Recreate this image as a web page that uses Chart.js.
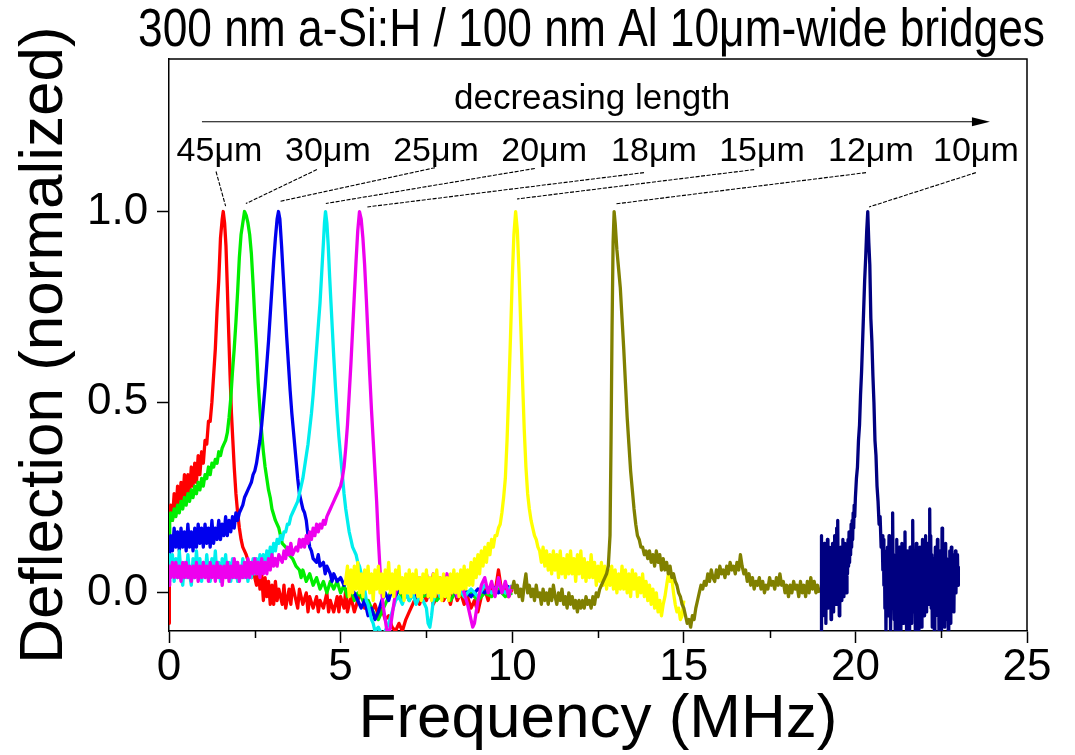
<!DOCTYPE html>
<html>
<head>
<meta charset="utf-8">
<script src="https://cdn.jsdelivr.net/npm/chart.js@4/dist/chart.umd.min.js"></script>
<style>html,body{margin:0;padding:0;background:#fff;overflow:hidden}</style>
</head>
<body>
<canvas id="c" width="1075" height="755"></canvas>
<script>
// ---------- tick values ----------
const xTicks = [0, 5, 10, 15, 20, 25];
const xMinorTicks = [2.5, 7.5, 12.5, 17.5, 22.5];
const yTicks = [0.0, 0.5, 1.0];

// ---------- series: [frequency (MHz), normalized deflection] ----------
const trace45um = [[0,-0.08],[0.01,0.20],[0.05,0.23],[0.1,0.19],[0.15,0.26],[0.2,0.21],[0.25,0.28],[0.3,0.23],[0.35,0.29],[0.4,0.24],[0.45,0.31],[0.5,0.25],[0.55,0.31],[0.6,0.26],[0.65,0.33],[0.7,0.28],[0.75,0.34],[0.8,0.29],[0.85,0.36],[0.9,0.31],[0.95,0.37],[1.0,0.34],[1.05,0.40],[1.1,0.39],[1.15,0.45],[1.2,0.45],[1.25,0.50],[1.3,0.57],[1.35,0.64],[1.4,0.74],[1.45,0.82],[1.5,0.93],[1.55,0.98],[1.58,1.0],[1.62,0.97],[1.66,0.91],[1.7,0.80],[1.74,0.68],[1.78,0.57],[1.82,0.47],[1.86,0.40],[1.9,0.33],[1.95,0.26],[2.0,0.21],[2.05,0.17],[2.1,0.14],[2.15,0.12],[2.2,0.11],[2.25,0.10],[2.3,0.085],[2.35,0.06],[2.4,0.04],[2.45,0.07],[2.5,0.04],[2.55,0.02],[2.6,0.07],[2.65,0.01],[2.7,0.05],[2.75,-0.02],[2.8,0.04],[2.85,-0.01],[2.9,0.03],[2.95,-0.03],[3.0,0.02],[3.05,-0.03],[3.1,0.03],[3.15,-0.02],[3.2,0.01],[3.3,-0.03],[3.35,0.02],[3.4,-0.04],[3.5,0.01],[3.55,-0.03],[3.6,0.02],[3.7,-0.02],[3.75,-0.04],[3.8,0.01],[3.9,-0.03],[4.0,0.0],[4.05,-0.05],[4.1,-0.01],[4.2,-0.04],[4.3,-0.01],[4.35,-0.05],[4.4,-0.02],[4.5,-0.04],[4.6,0.0],[4.65,-0.05],[4.7,-0.02],[4.8,-0.05],[4.9,-0.01],[4.95,-0.05],[5.0,-0.01],[5.1,-0.04],[5.15,0.01],[5.2,-0.05],[5.3,-0.01],[5.4,-0.05],[5.5,-0.02],[5.6,0.01],[5.7,-0.04],[5.8,-0.02],[5.9,-0.05],[6.0,-0.03],[6.1,-0.06],[6.2,-0.04],[6.3,-0.07],[6.4,-0.06],[6.5,-0.09],[6.6,-0.1],[6.7,-0.08],[6.8,-0.1],[6.9,-0.07],[7.0,-0.05],[7.1,-0.03],[7.2,-0.01],[7.3,-0.03],[7.4,0.0],[7.5,-0.02],[7.6,0.01],[7.7,-0.03],[7.8,-0.01],[7.9,0.01],[8.0,-0.02],[8.1,0.0],[8.2,-0.03],[8.3,0.01],[8.4,-0.02],[8.5,0.0],[8.6,-0.03],[8.7,-0.01],[8.8,-0.04],[8.9,-0.02],[9.0,-0.05],[9.1,-0.01],[9.2,0.01],[9.3,-0.02],[9.4,0.02],[9.5,0.0],[9.6,0.06],[9.7,0.0],[9.8,0.02],[9.9,-0.01],[10.0,0.01]];

const trace30um = [[0,0.12],[0.02,0.19],[0.05,0.21],[0.1,0.19],[0.15,0.22],[0.2,0.20],[0.25,0.23],[0.3,0.21],[0.35,0.24],[0.4,0.22],[0.45,0.25],[0.5,0.23],[0.55,0.26],[0.6,0.24],[0.65,0.27],[0.7,0.25],[0.75,0.28],[0.8,0.26],[0.85,0.29],[0.9,0.27],[0.95,0.30],[1.0,0.28],[1.05,0.31],[1.1,0.30],[1.15,0.33],[1.2,0.31],[1.25,0.34],[1.3,0.33],[1.35,0.35],[1.4,0.34],[1.45,0.37],[1.5,0.36],[1.55,0.38],[1.6,0.39],[1.65,0.40],[1.7,0.42],[1.75,0.46],[1.8,0.51],[1.85,0.58],[1.9,0.64],[1.95,0.71],[2.0,0.79],[2.05,0.88],[2.1,0.94],[2.15,0.97],[2.2,1.0],[2.25,0.99],[2.3,0.97],[2.35,0.94],[2.4,0.89],[2.45,0.81],[2.5,0.72],[2.55,0.64],[2.6,0.55],[2.65,0.48],[2.7,0.42],[2.75,0.37],[2.8,0.33],[2.85,0.30],[2.9,0.27],[2.95,0.25],[3.0,0.22],[3.1,0.19],[3.2,0.17],[3.3,0.13],[3.4,0.12],[3.5,0.10],[3.6,0.09],[3.7,0.07],[3.8,0.06],[3.85,0.04],[3.9,0.06],[4.0,0.03],[4.1,0.05],[4.2,0.02],[4.3,0.04],[4.4,0.01],[4.5,0.03],[4.6,0.0],[4.7,0.03],[4.8,0.01],[4.9,0.03],[5.0,0.0],[5.1,0.02],[5.2,-0.01],[5.3,0.01],[5.4,-0.02],[5.5,0.0],[5.6,-0.01],[5.7,-0.03],[5.8,-0.02],[5.9,-0.04],[6.0,-0.06],[6.1,-0.07],[6.2,-0.05],[6.3,-0.03],[6.4,-0.01],[6.5,0.01],[6.6,-0.01],[6.7,0.01],[6.8,-0.02],[6.9,0.0],[7.0,-0.02],[7.2,0.01],[7.4,-0.01],[7.6,0.0],[7.8,-0.02],[8.0,0.0],[8.2,-0.02],[8.4,0.01],[8.6,-0.01],[8.8,0.0],[9.0,-0.02],[9.2,0.0],[9.4,-0.01],[9.6,0.01],[9.8,-0.01],[10.0,0.0]];

const trace25um = [[0,0.06],[0.02,0.11],[0.05,0.15],[0.1,0.11],[0.15,0.17],[0.2,0.12],[0.25,0.16],[0.3,0.11],[0.35,0.17],[0.4,0.12],[0.45,0.16],[0.5,0.11],[0.55,0.18],[0.6,0.12],[0.65,0.16],[0.7,0.11],[0.75,0.17],[0.8,0.12],[0.85,0.18],[0.9,0.13],[0.95,0.17],[1.0,0.12],[1.05,0.18],[1.1,0.13],[1.15,0.17],[1.2,0.12],[1.25,0.19],[1.3,0.13],[1.35,0.17],[1.4,0.14],[1.45,0.19],[1.5,0.14],[1.55,0.18],[1.6,0.15],[1.65,0.20],[1.7,0.15],[1.75,0.19],[1.8,0.16],[1.85,0.20],[1.9,0.17],[1.95,0.21],[2.0,0.19],[2.05,0.21],[2.1,0.22],[2.15,0.23],[2.2,0.25],[2.25,0.26],[2.3,0.27],[2.35,0.28],[2.4,0.29],[2.45,0.31],[2.5,0.32],[2.55,0.34],[2.6,0.37],[2.65,0.40],[2.7,0.44],[2.75,0.49],[2.8,0.54],[2.85,0.60],[2.9,0.66],[2.95,0.73],[3.0,0.80],[3.05,0.87],[3.1,0.93],[3.15,0.98],[3.19,1.0],[3.23,0.98],[3.28,0.91],[3.33,0.83],[3.38,0.75],[3.43,0.67],[3.48,0.60],[3.53,0.53],[3.58,0.47],[3.63,0.42],[3.7,0.35],[3.75,0.30],[3.8,0.26],[3.85,0.24],[3.9,0.22],[3.95,0.21],[4.0,0.19],[4.05,0.15],[4.1,0.12],[4.15,0.11],[4.2,0.09],[4.3,0.08],[4.35,0.10],[4.4,0.07],[4.5,0.08],[4.55,0.05],[4.6,0.07],[4.7,0.05],[4.75,0.03],[4.8,0.05],[4.9,0.03],[5.0,0.04],[5.1,0.02],[5.2,0.03],[5.3,0.01],[5.4,0.0],[5.5,-0.02],[5.6,-0.04],[5.7,-0.02],[5.8,-0.06],[5.9,-0.04],[6.0,-0.07],[6.1,-0.05],[6.2,-0.02],[6.3,0.0],[6.4,-0.02],[6.5,0.01],[6.6,-0.01],[6.7,0.02],[6.8,0.0],[7.0,0.01],[7.2,-0.01],[7.4,0.01],[7.6,-0.01],[7.8,0.01],[8.0,0.0],[8.2,0.02],[8.4,-0.01],[8.6,0.01],[8.8,-0.01],[9.0,0.01],[9.2,0.0],[9.4,0.02],[9.6,0.0],[9.8,0.02],[10.0,0.01]];

const trace20um = [[0,0.03],[0.02,0.10],[0.05,0.05],[0.1,0.10],[0.15,0.03],[0.2,0.09],[0.25,0.04],[0.3,0.11],[0.35,0.05],[0.4,0.02],[0.45,0.08],[0.5,0.04],[0.55,0.10],[0.6,0.05],[0.65,0.02],[0.7,0.09],[0.75,0.04],[0.8,0.11],[0.85,0.05],[0.9,0.09],[0.95,0.03],[1.0,0.08],[1.05,0.04],[1.1,0.10],[1.15,0.05],[1.2,0.03],[1.25,0.09],[1.3,0.05],[1.35,0.11],[1.4,0.04],[1.45,0.08],[1.5,0.03],[1.55,0.09],[1.6,0.05],[1.65,0.10],[1.7,0.04],[1.75,0.08],[1.8,0.03],[1.85,0.09],[1.9,0.04],[1.95,0.08],[2.0,0.03],[2.05,0.07],[2.1,0.04],[2.15,0.09],[2.2,0.04],[2.25,0.08],[2.3,0.03],[2.35,0.08],[2.4,0.04],[2.45,0.09],[2.5,0.05],[2.55,0.09],[2.6,0.05],[2.65,0.10],[2.7,0.06],[2.75,0.10],[2.8,0.07],[2.85,0.11],[2.9,0.08],[2.95,0.12],[3.0,0.10],[3.05,0.13],[3.1,0.11],[3.15,0.14],[3.2,0.13],[3.25,0.15],[3.3,0.14],[3.35,0.16],[3.4,0.16],[3.45,0.18],[3.5,0.18],[3.55,0.20],[3.6,0.21],[3.65,0.22],[3.7,0.23],[3.75,0.24],[3.8,0.26],[3.85,0.28],[3.9,0.30],[3.95,0.33],[4.0,0.36],[4.05,0.39],[4.1,0.43],[4.15,0.47],[4.2,0.52],[4.25,0.58],[4.3,0.64],[4.35,0.70],[4.4,0.76],[4.45,0.84],[4.5,0.92],[4.53,0.97],[4.56,1.0],[4.6,0.97],[4.64,0.91],[4.68,0.83],[4.72,0.76],[4.76,0.69],[4.8,0.62],[4.85,0.54],[4.9,0.47],[4.95,0.41],[5.0,0.36],[5.05,0.31],[5.1,0.26],[5.15,0.22],[5.2,0.19],[5.25,0.16],[5.3,0.14],[5.35,0.12],[5.4,0.11],[5.45,0.10],[5.5,0.08],[5.55,0.07],[5.6,0.05],[5.65,0.03],[5.7,0.01],[5.75,-0.02],[5.8,-0.03],[5.85,-0.05],[5.9,-0.07],[5.95,-0.08],[6.0,-0.10],[6.1,-0.09],[6.2,-0.11],[6.3,-0.10],[6.4,-0.08],[6.5,-0.05],[6.6,-0.02],[6.7,-0.01],[6.8,-0.03],[6.9,0.0],[7.0,-0.02],[7.1,0.0],[7.2,-0.03],[7.3,-0.01],[7.4,-0.02],[7.5,-0.04],[7.55,-0.08],[7.6,-0.09],[7.65,-0.06],[7.7,-0.02],[7.8,0.01],[7.9,-0.01],[8.0,0.02],[8.2,0.0],[8.4,0.02],[8.6,-0.01],[8.8,0.01],[9.0,-0.01],[9.2,0.02],[9.4,0.0],[9.6,0.02],[9.8,0.0],[10.0,0.02]];

const trace18um = [[0,0.02],[0.02,0.07],[0.05,0.04],[0.1,0.08],[0.15,0.04],[0.2,0.08],[0.25,0.04],[0.3,0.07],[0.35,0.03],[0.4,0.08],[0.45,0.04],[0.5,0.08],[0.55,0.04],[0.6,0.07],[0.65,0.03],[0.7,0.07],[0.75,0.04],[0.8,0.08],[0.85,0.03],[0.9,0.07],[0.95,0.04],[1.0,0.08],[1.05,0.04],[1.1,0.07],[1.15,0.03],[1.2,0.08],[1.25,0.04],[1.3,0.07],[1.35,0.03],[1.4,0.08],[1.45,0.04],[1.5,0.07],[1.55,0.02],[1.6,0.07],[1.65,0.04],[1.7,0.08],[1.75,0.03],[1.8,0.07],[1.85,0.04],[1.9,0.09],[1.95,0.04],[2.0,0.08],[2.05,0.03],[2.1,0.07],[2.15,0.04],[2.2,0.08],[2.25,0.04],[2.3,0.09],[2.35,0.04],[2.4,0.08],[2.45,0.05],[2.5,0.09],[2.55,0.05],[2.6,0.08],[2.65,0.04],[2.7,0.09],[2.75,0.05],[2.8,0.08],[2.85,0.05],[2.9,0.09],[2.95,0.06],[3.0,0.10],[3.05,0.07],[3.1,0.09],[3.15,0.07],[3.2,0.10],[3.3,0.08],[3.35,0.11],[3.4,0.09],[3.45,0.12],[3.5,0.10],[3.55,0.13],[3.6,0.10],[3.65,0.11],[3.7,0.12],[3.75,0.11],[3.8,0.14],[3.85,0.12],[3.9,0.14],[3.95,0.12],[4.0,0.15],[4.05,0.13],[4.1,0.16],[4.15,0.14],[4.2,0.17],[4.25,0.15],[4.3,0.18],[4.35,0.16],[4.4,0.18],[4.45,0.17],[4.5,0.19],[4.55,0.18],[4.6,0.20],[4.65,0.21],[4.7,0.22],[4.75,0.23],[4.8,0.24],[4.85,0.25],[4.9,0.26],[4.95,0.27],[5.0,0.28],[5.05,0.30],[5.1,0.33],[5.15,0.38],[5.2,0.44],[5.25,0.52],[5.3,0.60],[5.35,0.69],[5.4,0.78],[5.45,0.87],[5.5,0.95],[5.55,1.0],[5.6,0.98],[5.65,0.93],[5.7,0.86],[5.75,0.77],[5.8,0.67],[5.85,0.57],[5.9,0.48],[5.95,0.40],[6.0,0.32],[6.05,0.24],[6.1,0.14],[6.15,0.06],[6.2,0.0],[6.25,-0.04],[6.3,-0.07],[6.35,-0.10],[6.4,-0.11],[6.45,-0.09],[6.5,-0.06],[6.55,-0.03],[6.6,0.0],[6.7,0.03],[6.8,0.0],[6.9,0.04],[7.0,0.01],[7.1,0.04],[7.2,0.0],[7.3,0.04],[7.4,0.01],[7.5,0.05],[7.6,0.01],[7.7,0.05],[7.8,0.0],[7.9,0.04],[8.0,0.01],[8.1,0.05],[8.2,0.0],[8.3,0.04],[8.4,-0.01],[8.5,0.03],[8.6,0.0],[8.7,-0.03],[8.8,-0.07],[8.85,-0.09],[8.9,-0.08],[8.95,-0.05],[9.0,-0.02],[9.1,0.02],[9.2,0.04],[9.3,0.0],[9.4,0.03],[9.5,-0.01],[9.6,0.04],[9.7,0.0],[9.8,0.03],[9.9,-0.01],[10.0,0.02]];

const trace15um = [[5.13,0.02],[5.2,0.07],[5.25,-0.01],[5.3,0.06],[5.35,0.0],[5.4,0.07],[5.45,0.01],[5.5,0.08],[5.55,0.0],[5.6,0.05],[5.65,-0.01],[5.7,0.06],[5.75,0.01],[5.8,0.07],[5.85,0.0],[5.9,0.05],[5.95,-0.02],[6.0,0.06],[6.05,0.01],[6.1,0.07],[6.15,0.0],[6.2,0.05],[6.25,-0.01],[6.3,0.06],[6.35,0.01],[6.4,0.08],[6.45,0.0],[6.5,0.05],[6.55,-0.01],[6.6,0.06],[6.65,0.01],[6.7,0.07],[6.75,0.0],[6.8,0.04],[6.85,-0.02],[6.9,0.05],[6.95,0.0],[7.0,0.06],[7.05,-0.01],[7.1,0.05],[7.15,0.0],[7.2,0.06],[7.25,-0.01],[7.3,0.04],[7.35,-0.02],[7.4,0.05],[7.45,0.0],[7.5,0.06],[7.55,-0.01],[7.6,0.04],[7.65,-0.02],[7.7,0.05],[7.75,-0.01],[7.8,0.06],[7.85,0.0],[7.9,0.04],[7.95,-0.02],[8.0,0.05],[8.05,-0.01],[8.1,0.04],[8.15,-0.02],[8.2,0.05],[8.25,0.0],[8.3,0.06],[8.35,0.0],[8.4,0.05],[8.45,-0.01],[8.5,0.06],[8.55,0.01],[8.6,0.07],[8.65,0.01],[8.7,0.06],[8.75,0.02],[8.8,0.08],[8.85,0.02],[8.9,0.09],[8.95,0.04],[9.0,0.10],[9.05,0.05],[9.1,0.11],[9.15,0.07],[9.2,0.12],[9.25,0.08],[9.3,0.13],[9.35,0.10],[9.4,0.14],[9.45,0.12],[9.5,0.15],[9.55,0.15],[9.6,0.17],[9.65,0.18],[9.7,0.21],[9.75,0.25],[9.8,0.30],[9.85,0.40],[9.9,0.53],[9.95,0.67],[10.0,0.82],[10.05,0.94],[10.1,1.0],[10.15,0.95],[10.2,0.84],[10.25,0.70],[10.3,0.56],[10.35,0.43],[10.4,0.33],[10.45,0.26],[10.5,0.22],[10.55,0.19],[10.6,0.17],[10.65,0.15],[10.7,0.14],[10.75,0.12],[10.8,0.11],[10.85,0.08],[10.9,0.12],[10.95,0.07],[11.0,0.11],[11.05,0.06],[11.1,0.10],[11.15,0.05],[11.2,0.11],[11.25,0.06],[11.3,0.10],[11.35,0.04],[11.4,0.11],[11.45,0.05],[11.5,0.09],[11.55,0.04],[11.6,0.10],[11.65,0.05],[11.7,0.11],[11.75,0.05],[11.8,0.09],[11.85,0.03],[11.9,0.10],[11.95,0.05],[12.0,0.11],[12.05,0.04],[12.1,0.09],[12.15,0.03],[12.2,0.08],[12.25,0.04],[12.3,0.10],[12.35,0.04],[12.4,0.08],[12.45,0.02],[12.5,0.07],[12.55,0.03],[12.6,0.08],[12.65,0.02],[12.7,0.07],[12.75,0.01],[12.8,0.06],[12.85,0.02],[12.9,0.07],[12.95,0.01],[13.0,0.06],[13.05,0.0],[13.1,0.05],[13.15,0.01],[13.2,0.07],[13.25,0.01],[13.3,0.06],[13.35,0.0],[13.4,0.05],[13.45,-0.01],[13.5,0.06],[13.55,0.01],[13.6,0.05],[13.65,-0.01],[13.7,0.04],[13.75,0.0],[13.8,0.05],[13.85,-0.01],[13.9,0.03],[13.95,-0.02],[14.0,0.02],[14.05,-0.03],[14.1,0.01],[14.15,-0.04],[14.2,0.0],[14.25,-0.05],[14.3,-0.02],[14.35,-0.06],[14.4,-0.03],[14.45,-0.01],[14.5,0.02],[14.55,0.05],[14.6,0.03],[14.65,0.04],[14.7,0.0],[14.75,-0.03],[14.8,-0.05],[14.85,-0.04],[14.9,-0.07],[14.95,-0.06],[15.0,-0.02]];

const trace12um = [[10.0,0.01],[10.05,0.03],[10.1,0.0],[10.15,0.02],[10.2,-0.01],[10.25,0.01],[10.3,-0.02],[10.35,0.02],[10.4,0.05],[10.45,0.0],[10.5,0.02],[10.55,-0.01],[10.6,0.01],[10.65,-0.02],[10.7,0.02],[10.75,-0.01],[10.8,0.0],[10.85,-0.03],[10.9,0.01],[10.95,-0.02],[11.0,0.0],[11.05,-0.03],[11.1,0.01],[11.15,-0.02],[11.2,0.02],[11.25,-0.01],[11.3,-0.03],[11.35,0.0],[11.4,-0.02],[11.45,0.01],[11.5,-0.03],[11.55,-0.01],[11.6,-0.04],[11.65,0.0],[11.7,-0.03],[11.75,-0.01],[11.8,-0.04],[11.85,-0.02],[11.9,-0.05],[11.95,-0.02],[12.0,-0.04],[12.05,-0.02],[12.1,-0.04],[12.15,-0.01],[12.2,-0.03],[12.25,-0.02],[12.3,-0.04],[12.35,-0.01],[12.4,-0.03],[12.45,0.0],[12.5,-0.01],[12.55,0.01],[12.6,0.02],[12.65,0.03],[12.7,0.04],[12.75,0.05],[12.8,0.07],[12.85,0.15],[12.88,0.40],[12.91,0.70],[12.94,0.92],[12.97,1.0],[13.0,0.97],[13.05,0.90],[13.1,0.85],[13.15,0.80],[13.2,0.72],[13.25,0.64],[13.3,0.55],[13.35,0.46],[13.4,0.39],[13.45,0.32],[13.5,0.27],[13.55,0.22],[13.6,0.18],[13.65,0.15],[13.7,0.14],[13.75,0.12],[13.8,0.12],[13.85,0.10],[13.9,0.11],[13.95,0.09],[14.0,0.11],[14.05,0.08],[14.1,0.10],[14.15,0.07],[14.2,0.11],[14.25,0.08],[14.3,0.10],[14.35,0.06],[14.4,0.09],[14.45,0.06],[14.5,0.08],[14.55,0.05],[14.6,0.07],[14.65,0.04],[14.7,0.05],[14.75,0.03],[14.8,0.02],[14.85,0.0],[14.9,-0.01],[14.95,-0.03],[15.0,-0.04],[15.05,-0.06],[15.1,-0.08],[15.15,-0.07],[15.2,-0.09],[15.25,-0.06],[15.3,-0.07],[15.35,-0.04],[15.4,-0.02],[15.45,0.0],[15.5,0.02],[15.55,0.01],[15.6,0.03],[15.65,0.02],[15.7,0.05],[15.75,0.03],[15.8,0.06],[15.85,0.04],[15.9,0.03],[15.95,0.06],[16.0,0.04],[16.05,0.07],[16.1,0.05],[16.15,0.06],[16.2,0.04],[16.25,0.07],[16.3,0.05],[16.35,0.08],[16.4,0.06],[16.45,0.07],[16.5,0.05],[16.55,0.08],[16.6,0.06],[16.65,0.10],[16.7,0.07],[16.75,0.05],[16.8,0.06],[16.85,0.03],[16.9,0.05],[16.95,0.02],[17.0,0.04],[17.05,0.01],[17.1,0.03],[17.15,0.02],[17.2,0.04],[17.25,0.01],[17.3,0.03],[17.35,0.0],[17.4,0.02],[17.45,0.01],[17.5,0.04],[17.55,0.02],[17.6,0.03],[17.65,0.01],[17.7,0.04],[17.75,0.02],[17.8,0.05],[17.85,0.02],[17.9,0.03],[17.95,0.0],[18.0,0.02],[18.05,-0.01],[18.1,0.02],[18.15,0.0],[18.2,0.03],[18.25,0.01],[18.3,0.02],[18.35,-0.01],[18.4,0.03],[18.45,0.0],[18.5,0.02],[18.55,-0.01],[18.6,0.03],[18.65,0.0],[18.7,0.04],[18.75,0.01],[18.8,0.03],[18.85,0.0],[18.9,0.02],[18.95,0.0]];

const trace10um = [[19.0,-0.1],[19.005,0.15],[19.02,0.03],[19.035,0.12],[19.05,-0.06],[19.065,0.10],[19.08,0.0],[19.095,0.13],[19.11,-0.03],[19.125,0.09],[19.14,-0.08],[19.155,0.11],[19.17,0.02],[19.185,0.14],[19.2,-0.04],[19.215,0.07],[19.23,-0.02],[19.245,0.12],[19.26,0.01],[19.275,0.10],[19.29,-0.07],[19.305,0.08],[19.32,0.03],[19.335,0.13],[19.35,-0.05],[19.365,0.06],[19.38,0.0],[19.395,0.15],[19.41,0.02],[19.425,0.11],[19.44,-0.03],[19.455,0.17],[19.47,0.04],[19.485,0.19],[19.5,0.01],[19.515,0.09],[19.53,-0.06],[19.545,0.08],[19.56,0.0],[19.575,0.12],[19.59,-0.02],[19.605,0.10],[19.62,0.03],[19.635,0.14],[19.65,-0.01],[19.665,0.09],[19.68,0.02],[19.695,0.13],[19.71,0.04],[19.725,0.11],[19.74,0.0],[19.755,0.12],[19.77,0.05],[19.785,0.14],[19.8,0.07],[19.815,0.16],[19.83,0.08],[19.845,0.15],[19.86,0.10],[19.875,0.18],[19.89,0.12],[19.905,0.19],[19.92,0.14],[19.935,0.21],[19.95,0.17],[19.965,0.23],[19.98,0.20],[20.0,0.25],[20.03,0.30],[20.06,0.33],[20.09,0.40],[20.12,0.44],[20.15,0.52],[20.18,0.58],[20.21,0.66],[20.24,0.74],[20.27,0.82],[20.3,0.88],[20.33,0.95],[20.36,1.0],[20.39,0.92],[20.42,0.86],[20.45,0.72],[20.48,0.66],[20.51,0.57],[20.54,0.50],[20.57,0.40],[20.6,0.36],[20.63,0.28],[20.66,0.24],[20.69,0.18],[20.72,0.20],[20.75,0.12],[20.78,0.15],[20.8,0.06],[20.815,0.14],[20.83,0.02],[20.845,0.11],[20.86,-0.04],[20.875,0.09],[20.89,-0.1],[20.905,0.07],[20.92,0.01],[20.935,0.12],[20.95,-0.06],[20.965,0.05],[20.98,0.15],[20.995,-0.02],[21.01,0.08],[21.025,-0.1],[21.04,0.04],[21.055,0.13],[21.07,0.0],[21.085,0.21],[21.1,0.03],[21.115,0.10],[21.13,-0.07],[21.145,0.06],[21.16,-0.1],[21.175,0.09],[21.19,0.02],[21.205,0.14],[21.22,-0.03],[21.235,0.07],[21.25,-0.1],[21.265,0.05],[21.28,0.12],[21.295,-0.05],[21.31,0.08],[21.325,-0.1],[21.34,0.03],[21.355,0.13],[21.37,-0.02],[21.385,0.10],[21.4,-0.08],[21.415,0.06],[21.43,0.01],[21.445,0.16],[21.46,-0.04],[21.475,0.09],[21.49,-0.1],[21.505,0.04],[21.52,0.11],[21.535,-0.06],[21.55,0.07],[21.565,-0.1],[21.58,0.05],[21.595,0.12],[21.61,-0.03],[21.625,0.10],[21.64,-0.08],[21.655,0.08],[21.67,0.19],[21.685,0.0],[21.7,0.11],[21.715,-0.05],[21.73,0.07],[21.745,-0.1],[21.76,0.04],[21.775,0.13],[21.79,-0.07],[21.805,0.06],[21.82,-0.02],[21.835,0.09],[21.85,-0.1],[21.865,0.05],[21.88,0.12],[21.895,-0.04],[21.91,0.08],[21.925,-0.09],[21.94,0.03],[21.955,0.14],[21.97,-0.02],[21.985,0.10],[22.0,-0.06],[22.015,0.07],[22.03,0.0],[22.045,0.15],[22.06,-0.05],[22.075,0.09],[22.09,0.02],[22.105,0.13],[22.12,-0.03],[22.135,0.11],[22.15,0.04],[22.165,0.22],[22.18,0.02],[22.195,0.15],[22.21,-0.04],[22.225,0.10],[22.24,-0.09],[22.255,0.06],[22.27,-0.02],[22.285,0.09],[22.3,-0.1],[22.315,0.05],[22.33,0.12],[22.345,-0.03],[22.36,0.08],[22.375,0.01],[22.39,0.14],[22.405,-0.06],[22.42,0.07],[22.435,-0.1],[22.45,0.06],[22.465,0.11],[22.48,-0.05],[22.495,0.09],[22.51,-0.1],[22.525,0.17],[22.54,0.03],[22.555,0.12],[22.57,-0.04],[22.585,0.10],[22.6,-0.09],[22.615,0.05],[22.63,0.13],[22.645,-0.02],[22.66,0.09],[22.675,-0.07],[22.69,0.06],[22.705,-0.1],[22.72,0.08],[22.735,0.01],[22.75,0.11],[22.765,-0.08],[22.78,0.07],[22.795,0.12],[22.81,-0.03],[22.825,0.09],[22.84,0.0],[22.855,0.10],[22.87,-0.05],[22.885,0.08],[22.9,0.02],[22.915,0.11],[22.93,0.0],[22.945,0.09],[22.96,0.03],[22.975,0.10],[22.99,0.02],[23.0,0.07]];

// ---------- series names / colours ----------
const seriesNames = ['45μm', '30μm', '25μm', '20μm', '18μm', '15μm', '12μm', '10μm'];
const seriesTraces = [trace45um, trace30um, trace25um, trace20um, trace18um, trace15um, trace12um, trace10um];
const seriesColors = ['#ff0000', '#00ee00', '#0000ee', '#00eeee', '#ee00ee', '#ffff00', '#808000', '#000080'];

// ---------- annotation text ----------
const arrowText = 'decreasing length';
// label anchor frequencies and leader line ends [freq, deflection]
const labelAnchor = [1.47, 4.63, 7.78, 10.93, 14.13, 17.28, 20.45, 23.51];
const leaderTop = [[1.37,1.105],[4.31,1.110],[7.75,1.115],[10.66,1.113],[13.84,1.102],[17.05,1.110],[20.31,1.102],[23.51,1.102]];
const leaderBottom = [[1.65,1.014],[2.24,1.021],[3.25,1.027],[4.57,1.021],[5.78,1.012],[10.14,1.033],[13.01,1.020],[20.40,1.012]];

const SANS = "'Liberation Sans', Arial, sans-serif";

const decor = {
  id: 'decor',
  afterDraw(chart) {
    const { ctx, chartArea: a, scales: { x, y } } = chart;
    ctx.save();
    ctx.strokeStyle = '#000';
    ctx.lineWidth = 1.5;
    ctx.beginPath();
    ctx.moveTo(a.left, a.top);
    ctx.lineTo(a.right, a.top);
    ctx.lineTo(a.right, a.bottom);
    ctx.stroke();
    ctx.beginPath();
    xMinorTicks.forEach(v => {
      const px = Math.round(x.getPixelForValue(v)) + 0.5;
      ctx.moveTo(px, a.bottom);
      ctx.lineTo(px, a.bottom + 7);
    });
    ctx.stroke();

    ctx.fillStyle = '#000';
    ctx.font = '35px ' + SANS;
    ctx.textAlign = 'center';
    ctx.textBaseline = 'alphabetic';
    ctx.fillText(arrowText, x.getPixelForValue(12.33), y.getPixelForValue(1.2696));
    const ay = y.getPixelForValue(1.2354);
    const ax0 = x.getPixelForValue(0.96), ax1 = x.getPixelForValue(23.92);
    ctx.lineWidth = 1.2;
    ctx.beginPath();
    ctx.moveTo(ax0, ay);
    ctx.lineTo(ax1 - 12, ay);
    ctx.stroke();
    ctx.beginPath();
    ctx.moveTo(ax1, ay);
    ctx.lineTo(ax1 - 18, ay - 4.5);
    ctx.lineTo(ax1 - 18, ay + 4.5);
    ctx.closePath();
    ctx.fill();

    ctx.font = '34px ' + SANS;
    seriesNames.forEach((t, i) => {
      ctx.fillText(t, x.getPixelForValue(labelAnchor[i]), y.getPixelForValue(1.1325));
    });
    ctx.lineWidth = 1.1;
    ctx.setLineDash([4, 1.5]);
    leaderTop.forEach((p, i) => {
      const q = leaderBottom[i];
      ctx.beginPath();
      ctx.moveTo(x.getPixelForValue(p[0]), y.getPixelForValue(p[1]));
      ctx.lineTo(x.getPixelForValue(q[0]), y.getPixelForValue(q[1]));
      ctx.stroke();
    });
    ctx.restore();
  }
};

const datasets = seriesTraces.map((tr, i) => ({
  label: seriesNames[i],
  data: tr.map(([f, v]) => ({ x: f, y: v })),
  borderColor: seriesColors[i],
  backgroundColor: seriesColors[i],
  borderWidth: 3.3,
  borderJoinStyle: 'round',
  pointRadius: 0,
  tension: 0,
  fill: false,
  order: seriesTraces.length - 1 - i
}));

new Chart(document.getElementById('c'), {
  type: 'line',
  data: { datasets },
  plugins: [decor],
  options: {
    responsive: false,
    animation: false,
    devicePixelRatio: 1,
    layout: { padding: { left: 138, right: 30, top: 0, bottom: 0 } },
    plugins: {
      legend: { display: false },
      tooltip: { enabled: false },
      title: {
        display: true,
        text: '300 nm a-Si:H / 100 nm Al 10μm-wide bridges',
        color: '#000',
        fullSize: true,
        align: 'center',
        font: { family: SANS, size: 54, weight: 'normal', lineHeight: 1.0 },
        padding: { top: 4, bottom: 1 }
      }
    },
    scales: {
      x: {
        type: 'linear',
        min: 0, max: 25,
        afterBuildTicks: s => { s.ticks = xTicks.map(v => ({ value: v })); },
        afterFit: s => { s.height = 124; s.paddingRight = 48; },
        ticks: {
          color: '#000', padding: 3, maxRotation: 0,
          font: { family: SANS, size: 44, lineHeight: 1.0 },
          callback: v => String(v)
        },
        grid: { drawOnChartArea: false, drawTicks: true, tickLength: 12, tickColor: '#000', tickWidth: 1.5 },
        border: { display: true, color: '#000', width: 1.5 },
        title: {
          display: true, text: 'Frequency (MHz)', color: '#000',
          font: { family: SANS, size: 62, lineHeight: 1.0 },
          padding: { top: 0, bottom: 4 }
        }
      },
      y: {
        type: 'linear',
        min: -0.1, max: 1.4,
        afterBuildTicks: s => { s.ticks = yTicks.map(v => ({ value: v })); },
        afterFit: s => { s.width = 31; },
        ticks: {
          color: '#000', mirror: true, crossAlign: 'far', padding: -82,
          font: { family: SANS, size: 44, lineHeight: 1.0 },
          callback: v => Number(v).toFixed(1)
        },
        grid: { drawOnChartArea: false, drawTicks: true, tickLength: 12, tickColor: '#000', tickWidth: 1.5 },
        border: { display: true, color: '#000', width: 1.5 },
        title: {
          display: true, text: 'Deflection (normalized)', color: '#000',
          font: { family: SANS, size: 62, lineHeight: 1.0 },
          padding: { top: -124, bottom: 0 }
        }
      }
    }
  }
});
</script>
</body>
</html>
